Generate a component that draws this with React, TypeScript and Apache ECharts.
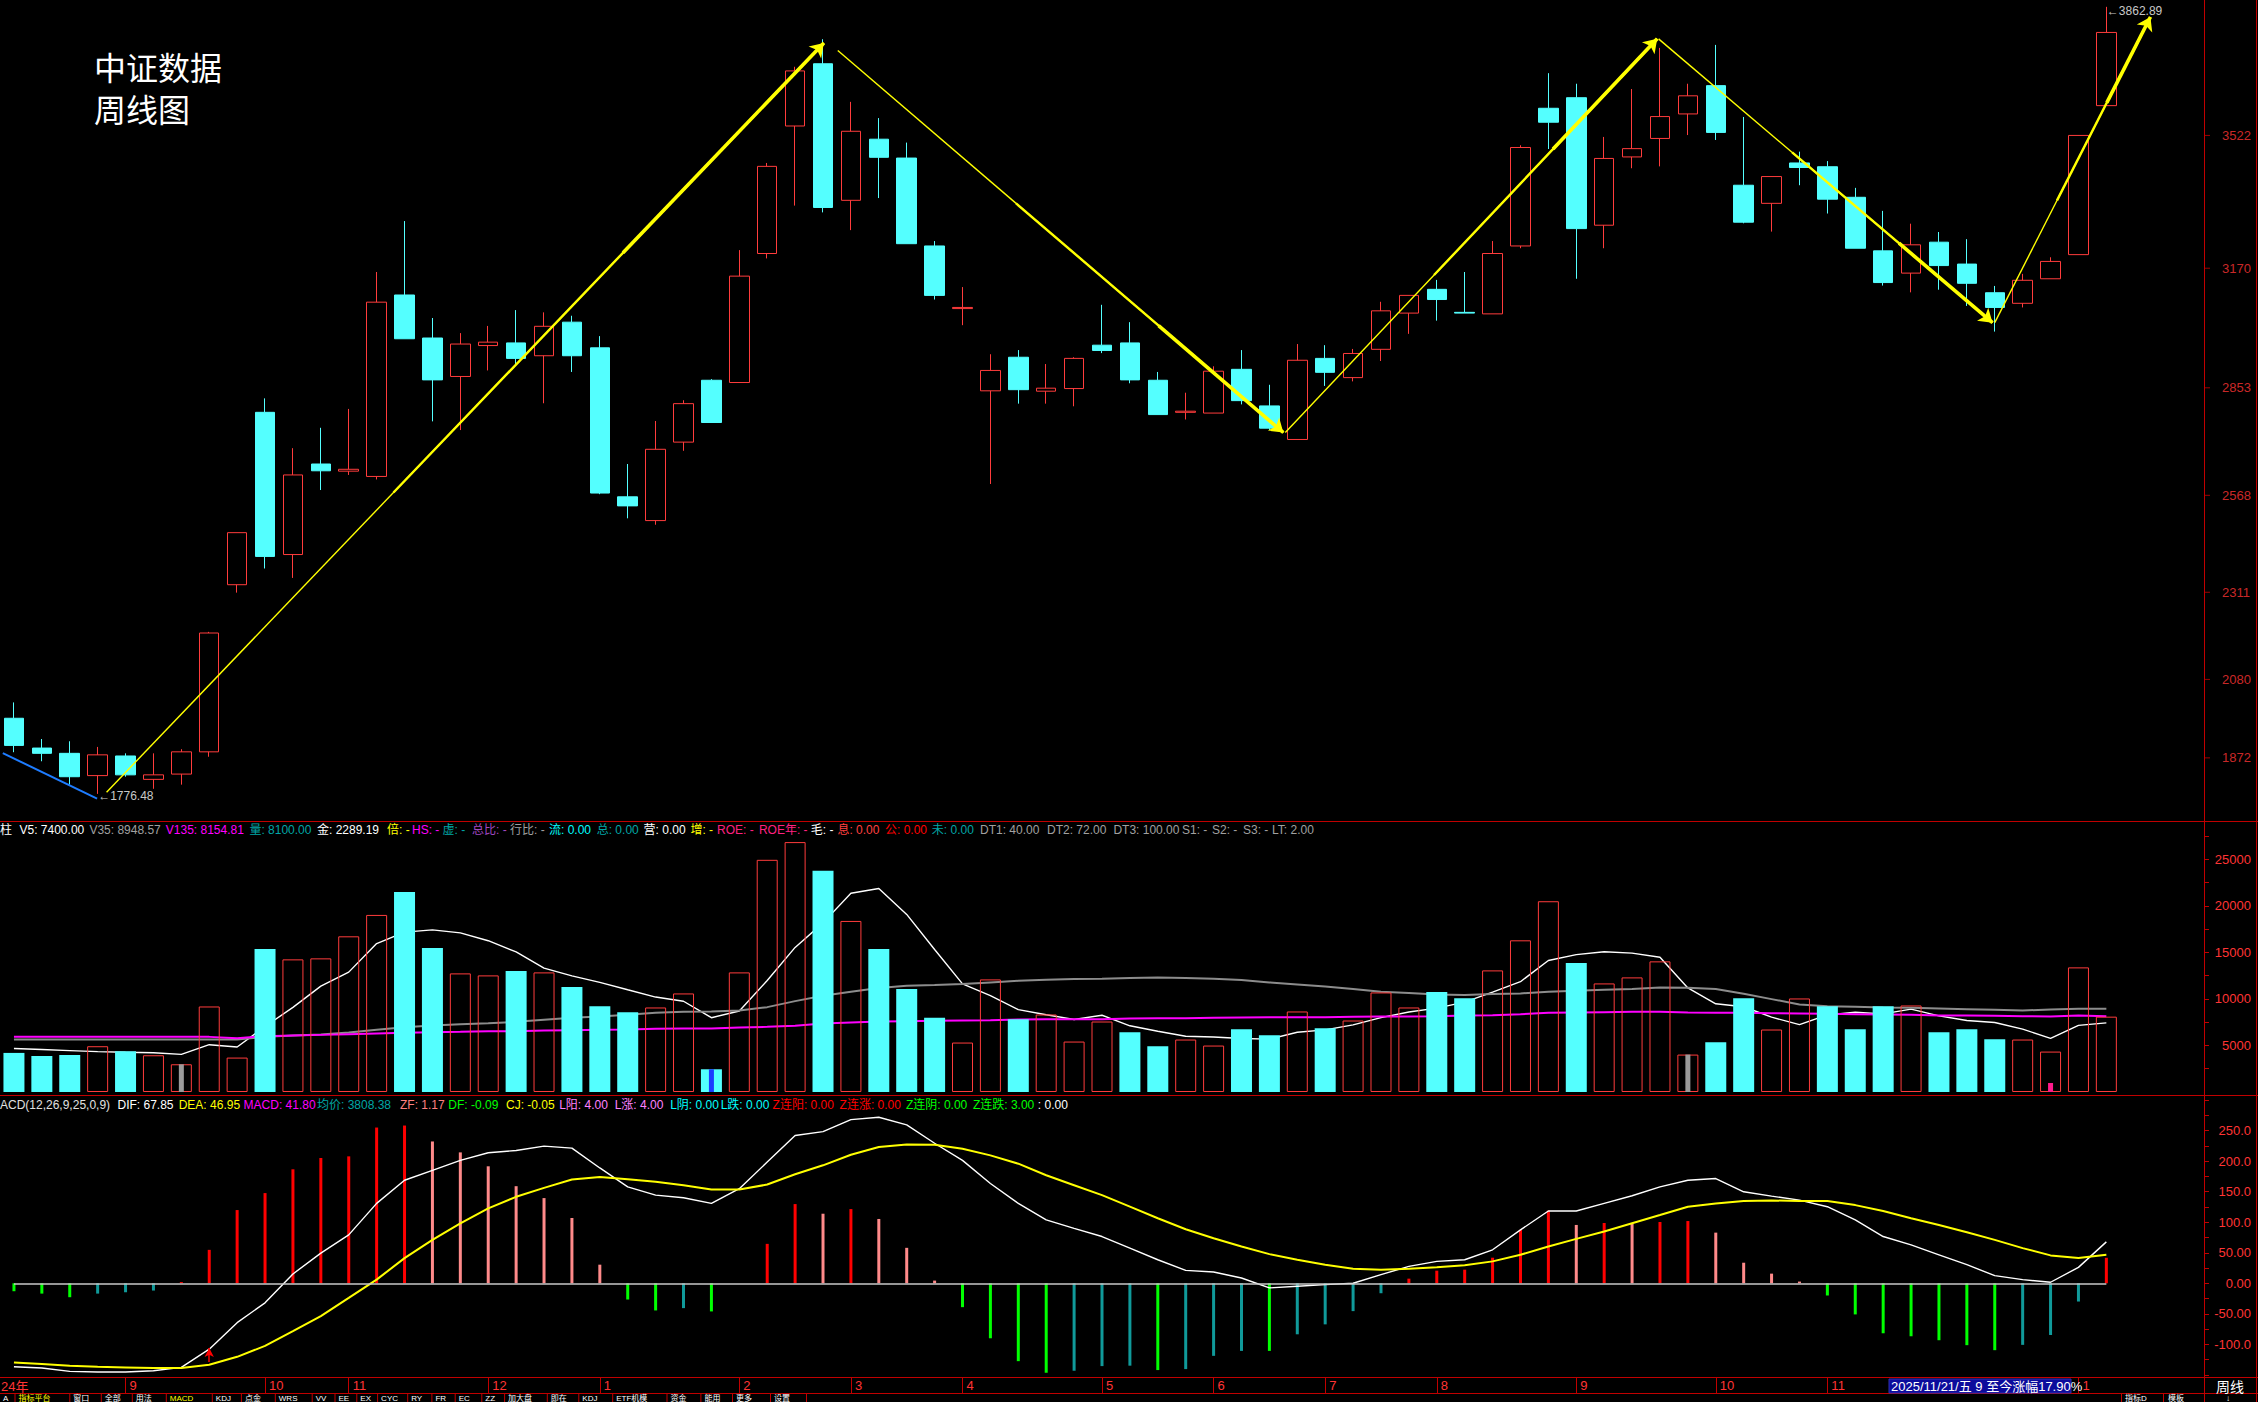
import React, { useEffect, useRef } from "react";
import * as echarts from "echarts";

// ---------- DATA ----------
const weeks = [
  "2024-08-09","2024-08-16","2024-08-23","2024-08-30","2024-09-06","2024-09-13","2024-09-20","2024-09-27","2024-09-30","2024-10-11",
  "2024-10-18","2024-10-25","2024-11-01","2024-11-08","2024-11-15","2024-11-22","2024-11-29","2024-12-06","2024-12-13","2024-12-20",
  "2024-12-27","2025-01-03","2025-01-10","2025-01-17","2025-01-24","2025-01-27","2025-02-07","2025-02-14","2025-02-21","2025-02-28",
  "2025-03-07","2025-03-14","2025-03-21","2025-03-28","2025-04-03","2025-04-11","2025-04-18","2025-04-25","2025-04-30","2025-05-09",
  "2025-05-16","2025-05-23","2025-05-30","2025-06-06","2025-06-13","2025-06-20","2025-06-27","2025-07-04","2025-07-11","2025-07-18",
  "2025-07-25","2025-08-01","2025-08-08","2025-08-15","2025-08-22","2025-08-29","2025-09-05","2025-09-12","2025-09-19","2025-09-26",
  "2025-09-30","2025-10-10","2025-10-17","2025-10-24","2025-10-31","2025-11-07","2025-11-14","2025-11-21","2025-11-28","2025-12-05",
  "2025-12-12","2025-12-19","2025-12-26","2025-12-31","2026-01-09","2026-01-16"
];

const openP = [
  1977,1898,1884,1825,1877,1815,1829,1888,2331,2788,
  2411,2651,2632,2618,3099,2985,2883,2965,2972,2938,
  3027,2959,2564,2501,2709,2873,2867,3209,3547,3712,
  3350,3512,3462,3229,3063,2845,2934,2844,2851,2966,
  2972,2873,2788,2786,2902,2805,2716,2931,2880,2955,
  3051,3114,3053,3049,3229,3594,3622,3284,3465,3514,
  3579,3654,3390,3342,3449,3439,3358,3216,3157,3239,
  3181,3105,3077,3142,3206,3601
];
const closeP = [
  1905,1884,1822,1880,1827,1827,1888,2203,2469,2406,
  2622,2633,2637,3080,2983,2874,2969,2974,2931,3016,
  2938,2574,2540,2690,2811,2761,3149,3440,3693,3331,
  3533,3464,3235,3098,3066,2899,2848,2852,2931,2952,
  2874,2782,2791,2897,2819,2746,2926,2894,2944,3057,
  3098,3087,3051,3209,3490,3557,3275,3461,3487,3572,
  3627,3530,3292,3413,3437,3353,3223,3132,3232,3177,
  3130,3066,3138,3188,3522,3795
];
const lowP = [
  1887,1863,1801,1776.48,1822,1790,1801,1875,2310,2374,
  2349,2582,2622,2610,2983,2764,2741,2899,2915,2812,
  2895,2571,2507,2490,2686,2761,2867,3196,3336,3318,
  3271,3356,3235,3087,3019,2598,2811,2811,2804,2945,
  2865,2782,2769,2786,2809,2741,2716,2858,2870,2924,
  2996,3031,3051,3049,3223,3486,3142,3223,3435,3440,
  3523,3510,3289,3267,3390,3315,3223,3124,3106,3113,
  3070,3002,3066,3142,3206,3601
];
const highP = [
  2019,1922,1916,1901,1884,1884,1895,2206,2469,2825,
  2693,2747,2797,3160,3295,3038,2998,3017,3059,3053,
  3044,2990,2651,2765,2820,2876,3218,3449,3704,3777,
  3611,3568,3503,3242,3120,2942,2953,2916,2934,3073,
  3027,2895,2840,2910,2953,2861,2969,2966,2956,3081,
  3098,3139,3160,3242,3496,3687,3659,3518,3645,3754,
  3659,3762,3571,3413,3479,3454,3383,3322,3288,3266,
  3247,3123,3155,3199,3522,3862.89
];

const volume = [
  4203,3879,3987,4921,4382,3951,2981,9196,3700,15374,
  14260,14368,16739,19038,21516,15482,12752,12536,13003,12859,
  11279,9231,8585,9088,10596,2443,12859,24964,26868,23779,
  18391,15374,11063,7974,5316,12105,7831,8333,5424,7579,
  6430,4921,5640,4993,6753,6106,8657,6861,7687,10704,
  9088,10740,10093,13075,16308,20510,13865,11674,12321,14045,
  4023,5352,10093,6717,10058,9231,6753,9231,9303,6430,
  6753,5675,5640,4346,13398,8100
];
// 1 = red (rising) volume bar, 0 = cyan (falling) bar, as seen in the picture
const volUp = [
  0,0,0,1,0,1,1,1,1,0,
  1,1,1,1,0,0,1,1,0,1,
  0,0,0,1,1,0,1,1,1,0,
  1,0,0,0,1,1,0,1,1,1,
  0,0,1,1,0,0,1,0,1,1,
  1,0,0,1,1,1,0,1,1,1,
  1,0,0,1,1,0,0,0,1,0,
  0,0,1,1,1,1
];
// first four V5 values (they need volumes before the visible window)
const ma5Head = [4670, 4562, 4454, 4346];
const ma35 = [
  5639,5639,5639,5639,5639,5639,5639,5639,5639,5927,
  6070,6178,6394,6681,6968,7148,7292,7400,7543,7759,
  7974,8118,8298,8513,8621,8657,8765,9124,9770,10345,
  10776,11171,11423,11494,11602,11782,11961,12069,12141,12177,
  12249,12321,12249,12177,12033,11782,11566,11351,11063,10776,
  10632,10489,10417,10525,10596,10776,10884,10992,11063,11243,
  11207,11063,10560,9986,9411,9231,9160,9088,9052,8980,
  8908,8836,8765,8872,8944,8949
];
const ma135 = [
  5927,5927,5927,5927,5927,5927,5927,5927,5783,5999,
  6070,6142,6214,6286,6358,6430,6466,6537,6537,6609,
  6645,6681,6717,6789,6825,6825,6933,7004,7112,7364,
  7471,7579,7615,7651,7687,7723,7795,7831,7831,7831,
  7902,7938,7938,7974,8010,8046,8046,8046,8082,8118,
  8118,8154,8226,8262,8369,8513,8549,8585,8621,8621,
  8549,8513,8513,8477,8441,8405,8369,8333,8298,8226,
  8226,8190,8154,8118,8226,8155
];
// special markers inside some volume bars
const volMarkIdx = [6, 25, 60, 73];
const volMarkVal = [2981, 2443, 4023, 970];
const volMarkKind = ["gray", "blue", "gray", "magenta"];

const dif = [
  -136.8,-138.9,-144.4,-145.4,-145.4,-143.3,-137.8,-108,-64.5,-32,
  15.3,49.5,79.3,130.9,168.9,185.1,201.4,213.9,217.7,224.8,
  221.5,189,158,144.5,140.1,130.9,155,198.7,242.1,248.6,
  268.2,272,259.5,229.5,201.4,163.5,130.9,103.8,90.1,76.6,
  57.6,38.6,21.2,18.5,8.7,-7.6,-4.9,-2.2,0,14.2,
  27.7,35.9,38.6,54.9,87.5,118.4,118.4,130.9,143.4,158,
  168.9,171.6,149.9,142.8,136.3,125.5,103.8,76.6,63,46.7,
  30.5,12.5,6,1.7,26.1,67.85
];
const dea = [
  -129.7,-132.4,-135.1,-136.8,-137.8,-138.9,-138.9,-133.5,-120.5,-102.6,
  -78.2,-53.7,-23.9,6,41.3,71.1,98.3,122.7,141.7,156.4,
  170,174.3,170.5,166.2,160.7,153.7,153.7,161.8,178.7,193.3,
  210.7,223.2,227.5,227,220.4,209.6,196,177,160.7,144.5,
  125.5,106.5,88.6,73.9,60.4,47.8,38.6,30.5,23.9,22.3,
  23.9,26.1,29.4,35.9,46.7,60.4,72.8,84.8,98.3,111.8,
  125.5,130.9,134.7,135.7,134.7,134.7,128.1,118.4,106.5,95.6,
  83.6,71.1,57.6,45.7,41.3,46.95
];
const macd = [
  -13,-16.9,-22.8,-16.9,-14.7,-11.9,2,54.8,120,147.8,
  186.8,205.3,208,255.2,258.5,232.4,214.5,191.7,159.1,139.6,
  107,30.5,-26.6,-44.5,-40.7,-46.1,0,64.6,129.8,114,
  121.6,105.4,58.1,4.4,-39.1,-90.1,-127.6,-146.6,-143.3,-135.7,
  -135,-142.2,-140.6,-118.9,-110.8,-110.8,-83.6,-67.3,-45.6,-16.3,
  7.6,20.7,22.3,41.9,87.5,119,95.6,98.8,97.2,100.4,
  102,83,33.7,15.8,2.8,-20,-51,-81.9,-86.8,-93.3,
  -101.4,-109.6,-100.9,-84.7,-29.9,41.8
];

// axis tick labels
const priceTicks = [3522, 3170, 2853, 2568, 2311, 2080, 1872];
const volTickLabels = [5000, 10000, 15000, 20000, 25000];
const volTickMarks = [2500, 5000, 7500, 10000, 12500, 15000, 17500, 20000, 22500, 25000, 27500];
const macdTickLabels = [-100, -50, 0, 50, 100, 150, 200, 250];
const macdTickMarks = [-150, -125, -100, -75, -50, -25, 0, 25, 50, 75, 100, 125, 150, 175, 200, 225, 250, 275, 300];

// trend annotations (in data space: week index, price)
const trendFrom = [[3.32, 1781], [29.53, 3747], [45.57, 2734.5], [58.95, 3778], [71.0, 3025.6]];
const trendTo = [[29.03, 3767], [45.5, 2734.5], [58.9, 3778], [70.92, 3025.6], [76.58, 3836]];
const blueFrom = [-0.4, 1884.6];
const blueTo = [2.98, 1764];

// ---------- STYLE ----------
const FONT = '"Liberation Sans", "Noto Sans CJK SC", sans-serif';
const CJK = '"Noto Sans CJK SC", "Liberation Sans", sans-serif';
const FRAME = "#c00000";
const AXIS_RED = "#ff3434";
const UP = "#ff3c3c";
const DOWN = "#54ffff";
const PRICE_MIN = 1702;
const PRICE_MAX = 3881;

function buildOption() {
  const n = weeks.length;
  const slots = n + 3;
  const cats = weeks.concat(["pad-1", "pad-2", "pad-3"]);
  const monthOf = (i: number) => parseInt(weeks[i].slice(5, 7), 10);
  // month starts; those under the hover date box (weeks 68-73) are hidden like in the picture
  const isMonthStart = (i: number) =>
    i > 0 && i < n && monthOf(i) !== monthOf(i - 1) && !(i >= 68 && i <= 73);

  const candleData = weeks.map((_, i) => [openP[i], closeP[i], lowP[i], highP[i]]);

  const ma5 = volume.map((v, i) =>
    i < ma5Head.length ? ma5Head[i] : Math.round((volume[i - 4] + volume[i - 3] + volume[i - 2] + volume[i - 1] + v) / 5)
  );

  const volItems = volume.map((v, i) => ({
    value: v,
    itemStyle: volUp[i]
      ? { color: "rgba(0,0,0,0)", borderColor: UP, borderWidth: 1 }
      : { color: DOWN, borderWidth: 0 },
  }));

  const markColor: Record<string, string> = { gray: "#9a9a9a", blue: "#1a3cff", magenta: "#ff1a8c" };
  const markItems = cats.map((_, i) => {
    const k = volMarkIdx.indexOf(i);
    return k >= 0 ? { value: volMarkVal[k], itemStyle: { color: markColor[volMarkKind[k]] } } : "-";
  });

  const macdItems = macd.map((v, i) => {
    const prev = i > 0 ? macd[i - 1] : v;
    let c;
    if (v >= 0) c = i === 0 || v >= prev ? "#ff0000" : "#ff8a8a";
    else c = i === 0 || v <= prev ? "#00ff00" : "#109a9a";
    return { value: v, itemStyle: { color: c } };
  });

  // the annotation axis runs 0..slots, so week i sits at i + 0.5
  const toAx = (p: number[]) => [p[0] + 0.5, p[1]];
  const lerp = (a: number[], b: number[], t: number) => [a[0] + (b[0] - a[0]) * t, a[1] + (b[1] - a[1]) * t];
  const trendBase = trendFrom.map((f, k) => ({ coords: [toAx(f), toAx(trendTo[k])] }));
  const trendMid = trendFrom.map((f, k) => ({ coords: [toAx(lerp(f, trendTo[k], 0.4)), toAx(trendTo[k])] }));
  const trendHead = trendFrom.map((f, k) => ({ coords: [toAx(lerp(f, trendTo[k], 0.72)), toAx(trendTo[k])] }));

  const linesCommon = {
    type: "lines",
    coordinateSystem: "cartesian2d",
    xAxisIndex: 3,
    yAxisIndex: 3,
    polyline: false,
    silent: true,
    z: 6,
  };

  const plain = (v: number) => String(v);

  // ---------- graphic: frame, headers, texts ----------
  const g: any[] = [];
  const hl = (y: number) => ({
    type: "line", silent: true, z: 50,
    shape: { x1: 0, y1: y, x2: 2258, y2: y },
    style: { stroke: FRAME, lineWidth: 1 },
  });
  const vl = (x: number, y1: number, y2: number) => ({
    type: "line", silent: true, z: 50,
    shape: { x1: x, y1, x2: x, y2 },
    style: { stroke: FRAME, lineWidth: 1 },
  });
  [821.5, 1095.5, 1377.5, 1393.5].forEach((y) => g.push(hl(y)));
  g.push(vl(2204.5, 0, 1402));
  g.push(vl(2256.5, 0, 1402));

  const txt = (x: number, y: number, text: string, fill: string, size: number, fam = FONT, va = "middle") => ({
    type: "text", silent: true, z: 60, x, y,
    style: { text, fill, font: `${size}px ${fam}`, verticalAlign: va, align: "left" },
  });

  // title
  g.push(txt(94, 66, "中证数据", "#ffffff", 32, CJK));
  g.push(txt(94, 108, "周线图", "#ffffff", 32, CJK));

  // volume header
  const volHeader: [number, string, string][] = [
    [0, "柱", "#ffffff"],
    [19.5, "V5: 7400.00", "#ffffff"],
    [89.4, "V35: 8948.57", "#a0a0a0"],
    [165.8, "V135: 8154.81", "#ff00ff"],
    [249.4, "量: 8100.00", "#00a6a6"],
    [317, "金: 2289.19", "#ffffff"],
    [387, "倍: -", "#ffff00"],
    [412, "HS: -", "#ff00ff"],
    [442.5, "虚: -", "#00a6a6"],
    [472, "总比: -", "#a048c0"],
    [510, "行比: -", "#a0a0a0"],
    [549, "流: 0.00", "#00ffff"],
    [596.7, "总: 0.00", "#00a6a6"],
    [643.6, "营: 0.00", "#ffffff"],
    [690.4, "增: -", "#ffff00"],
    [717, "ROE: -", "#ff2080"],
    [758.9, "ROE年: -", "#ff2080"],
    [810.8, "毛: -", "#ffffff"],
    [837.4, "息: 0.00", "#ff4040"],
    [885, "公: 0.00", "#ff0000"],
    [931.8, "未: 0.00", "#00a6a6"],
    [980, "DT1: 40.00", "#a0a0a0"],
    [1047, "DT2: 72.00", "#a0a0a0"],
    [1113.4, "DT3: 100.00", "#a0a0a0"],
    [1182, "S1: -", "#a0a0a0"],
    [1212, "S2: -", "#a0a0a0"],
    [1243, "S3: -", "#a0a0a0"],
    [1272, "LT: 2.00", "#a0a0a0"],
  ];
  volHeader.forEach(([x, t, c]) => g.push(txt(x, 830, t, c, 12)));

  // MACD header
  const macdHeader: [number, string, string][] = [
    [0, "ACD(12,26,9,25,0,9)", "#e0e0e0"],
    [117.5, "DIF: 67.85", "#ffffff"],
    [178.7, "DEA: 46.95", "#ffff00"],
    [243.6, "MACD: 41.80", "#ff00ff"],
    [317, "均价: 3808.38", "#00a6a6"],
    [400, "ZF: 1.17", "#ff8080"],
    [448.3, "DF: -0.09", "#00ff00"],
    [506, "CJ: -0.05", "#ffff00"],
    [559.2, "L阳: 4.00", "#ff80ff"],
    [614.7, "L涨: 4.00", "#ff80ff"],
    [670.2, "L阴: 0.00", "#00ffff"],
    [720.7, "L跌: 0.00", "#00ffff"],
    [772.6, "Z连阳: 0.00", "#ff0000"],
    [839.6, "Z连涨: 0.00", "#ff0000"],
    [905.9, "Z连阴: 0.00", "#00ff00"],
    [972.9, "Z连跌: 3.00", "#00ff00"],
    [1037.8, ": 0.00", "#ffffff"],
  ];
  macdHeader.forEach(([x, t, c]) => g.push(txt(x, 1105, t, c, 12)));

  // x-axis row extras
  g.push(txt(1, 1386, "24年", AXIS_RED, 13));
  g.push({
    type: "rect", silent: true, z: 70,
    shape: { x: 1889, y: 1379, width: 182, height: 14 },
    style: { fill: "#0c0c9c", stroke: "#3030b0", lineWidth: 1 },
  });
  g.push({ ...txt(1891, 1386, "2025/11/21/五 9 至今涨幅17.90%", "#ffffff", 13), z: 71 });
  g.push(txt(2216, 1386, "周线", "#ffffff", 14, CJK));

  // bottom tab bar (a thin strip at the foot of the window)
  const tabSeps = [14.5, 69.3, 100.8, 131.8, 165.8, 211.8, 240.9, 274.8, 311.7, 334.5, 356.3, 377.1, 407.2, 431.4, 454.7, 481.3, 504.1, 546.8, 578.3, 612.2, 666.5, 700.4, 732, 770, 806, 2121, 2163];
  const tabNames = ["指标平台", "窗口", "全部", "用法", "MACD", "KDJ", "点金", "WRS", "VV", "EE", "EX", "CYC", "RY", "FR", "EC", "ZZ", "加大盘", "即在", "KDJ", "ETF机模", "资金", "能用", "更多", "设置"];
  tabSeps.forEach((x) => g.push(vl(x + 0.5, 1394, 1402)));
  tabNames.forEach((t, k) => {
    const col = k === 0 || k === 4 ? "#ffff00" : "#ffffff";
    g.push(txt(tabSeps[k] + 4, 1398, t, col, 8, FONT, "middle"));
  });
  g.push(txt(3, 1398, "A", "#ffffff", 8, FONT, "middle"));
  g.push(txt(2125, 1398, "指标D", "#ffffff", 8, FONT, "middle"));
  g.push(txt(2168, 1398, "模板", "#ffffff", 8, FONT, "middle"));
  g.push(txt(2226, 1398, "↓", "#ffffff", 8, FONT, "middle"));

  const hiddenCat = (gridIndex: number) => ({
    type: "category", gridIndex, data: cats, boundaryGap: true, show: false,
  });

  return {
    animation: false,
    backgroundColor: "#000000",
    grid: [
      { left: -3, top: 0, width: 2207, height: 822 },
      { left: -3, top: 822, width: 2207, height: 270 },
      { left: -3, top: 1096, width: 2207, height: 282 },
      // overlay grid for the trend annotations and the price scale marks (same rectangle as the price grid)
      { left: -3, top: 0, width: 2207, height: 822 },
    ],
    xAxis: [
      hiddenCat(0),
      hiddenCat(1),
      {
        type: "category", gridIndex: 2, data: cats, boundaryGap: true,
        axisLine: { show: false, onZero: false },
        axisTick: { show: true, interval: (i: number) => isMonthStart(i), alignWithLabel: true, length: 16, lineStyle: { color: FRAME, width: 1 } },
        axisLabel: {
          show: true, interval: (i: number) => isMonthStart(i),
          formatter: (_v: string, i: number) => String(monthOf(i)),
          color: AXIS_RED, fontSize: 13, fontFamily: FONT, align: "left", margin: 1, padding: [0, 0, 0, 4],
        },
        splitLine: { show: false },
      },
      { type: "value", gridIndex: 3, min: 0, max: slots, show: false },
      hiddenCat(1),
    ],
    yAxis: [
      { type: "value", gridIndex: 0, position: "right", min: PRICE_MIN, max: PRICE_MAX, show: false },
      {
        type: "value", gridIndex: 1, position: "right", min: 0, max: 29030,
        axisLine: { show: false, onZero: false }, splitLine: { show: false },
        axisTick: { show: true, customValues: volTickMarks, length: 5, lineStyle: { color: FRAME } },
        axisLabel: { show: true, customValues: volTickLabels, formatter: plain, color: AXIS_RED, fontSize: 13, fontFamily: FONT, align: "right", margin: 47 },
      },
      {
        type: "value", gridIndex: 2, position: "right", min: -155.2, max: 306.9,
        axisLine: { show: false, onZero: false }, splitLine: { show: false },
        axisTick: { show: true, customValues: macdTickMarks, length: 5, lineStyle: { color: FRAME } },
        axisLabel: {
          show: true, customValues: macdTickLabels, color: AXIS_RED, fontSize: 13, fontFamily: FONT, align: "right", margin: 47,
          formatter: (v: number) => (Math.abs(v) >= 100 ? v.toFixed(1) : v.toFixed(2)),
        },
      },
      { type: "value", gridIndex: 3, position: "right", min: PRICE_MIN, max: PRICE_MAX, show: false },
    ],
    series: [
      {
        type: "candlestick", name: "K", xAxisIndex: 0, yAxisIndex: 0, data: candleData, barWidth: 20, z: 3,
        itemStyle: { color: "rgba(0,0,0,0)", color0: DOWN, borderColor: UP, borderColor0: DOWN, borderWidth: 1 },
        markPoint: {
          symbol: "circle", symbolSize: 1, silent: true,
          itemStyle: { color: "rgba(0,0,0,0)" },
          label: { show: true, position: "right", distance: 0, color: "#c8c8c8", fontSize: 12, fontFamily: FONT },
          data: [
            { coord: [n - 1, highP[n - 1]], value: highP[n - 1], label: { formatter: "←" + highP[n - 1].toFixed(2), offset: [0, 4] } },
            { coord: [3, lowP[3]], value: lowP[3], label: { formatter: "←" + lowP[3].toFixed(2), offset: [0, 2] } },
          ],
        },
      },
      // price scale: tick marks and labels at the right edge of the price panel, placed through the price scale
      {
        type: "scatter", name: "priceScale", xAxisIndex: 3, yAxisIndex: 3, silent: true, clip: false, z: 8,
        data: priceTicks.map((v) => [slots, v]),
        symbol: "rect", symbolSize: [6, 1], symbolOffset: [3, 0],
        itemStyle: { color: FRAME },
        label: {
          show: true, position: "right", distance: 12,
          formatter: (p: any) => String(p.value[1]),
          color: AXIS_RED, fontSize: 13, fontFamily: FONT,
        },
      },
      { ...linesCommon, data: trendBase, symbol: ["none", "none"], lineStyle: { color: "#ffff00", width: 1.4, opacity: 1, curveness: 0 } },
      { ...linesCommon, data: trendMid, symbol: ["none", "none"], lineStyle: { color: "#ffff00", width: 2.4, opacity: 1, curveness: 0 } },
      { ...linesCommon, data: trendHead, symbol: ["none", "arrow"], symbolSize: 13, lineStyle: { color: "#ffff00", width: 3.6, opacity: 1, curveness: 0 } },
      { ...linesCommon, data: [{ coords: [toAx(blueFrom), toAx(blueTo)] }], symbol: ["none", "none"], lineStyle: { color: "#1e7cff", width: 2, opacity: 1, curveness: 0 } },

      { type: "line", name: "V5", xAxisIndex: 1, yAxisIndex: 1, data: ma5, symbol: "none", z: 1, lineStyle: { color: "#ffffff", width: 1.4 } },
      { type: "line", name: "V35", xAxisIndex: 1, yAxisIndex: 1, data: ma35, symbol: "none", z: 1, lineStyle: { color: "#8c8c8c", width: 2 } },
      { type: "line", name: "V135", xAxisIndex: 1, yAxisIndex: 1, data: ma135, symbol: "none", z: 1, lineStyle: { color: "#ff00ff", width: 2 } },
      { type: "bar", name: "VOL", xAxisIndex: 1, yAxisIndex: 1, data: volItems, barWidth: 21, z: 3 },
      { type: "bar", name: "VOLMARK", xAxisIndex: 4, yAxisIndex: 1, data: markItems, barWidth: 5, z: 4 },

      {
        type: "bar", name: "MACD", xAxisIndex: 2, yAxisIndex: 2, data: macdItems, barWidth: 3, z: 3,
        markLine: {
          silent: true, symbol: ["none", "none"], label: { show: false },
          lineStyle: { color: "#c8c8c8", width: 1.5, type: "solid" },
          data: [
            [{ coord: [0, 0] }, { coord: [n - 1, 0] }],
            [
              { coord: [7, -129], lineStyle: { color: "#ff0000", width: 1.5, type: "solid" } },
              { coord: [7, -106], symbol: "arrow", symbolSize: [7, 9], lineStyle: { color: "#ff0000", width: 1.5, type: "solid" } },
            ],
          ],
        },
      },
      { type: "line", name: "DIF", xAxisIndex: 2, yAxisIndex: 2, data: dif, symbol: "none", z: 4, lineStyle: { color: "#ffffff", width: 1.4 } },
      { type: "line", name: "DEA", xAxisIndex: 2, yAxisIndex: 2, data: dea, symbol: "none", z: 4, lineStyle: { color: "#ffff00", width: 2 } },
    ],
    graphic: g,
  };
}

export default function App() {
  const ref = useRef<HTMLDivElement>(null);
  useEffect(() => {
    const el = ref.current;
    if (!el) return;
    const chart = echarts.init(el, null, { renderer: "svg", width: 2258, height: 1402 });
    chart.setOption(buildOption() as any);
    return () => chart.dispose();
  }, []);
  return (
    <div
      ref={ref}
      style={{ position: "fixed", left: 0, top: 0, width: 2258, height: 1402, background: "#000", overflow: "hidden" }}
    />
  );
}
